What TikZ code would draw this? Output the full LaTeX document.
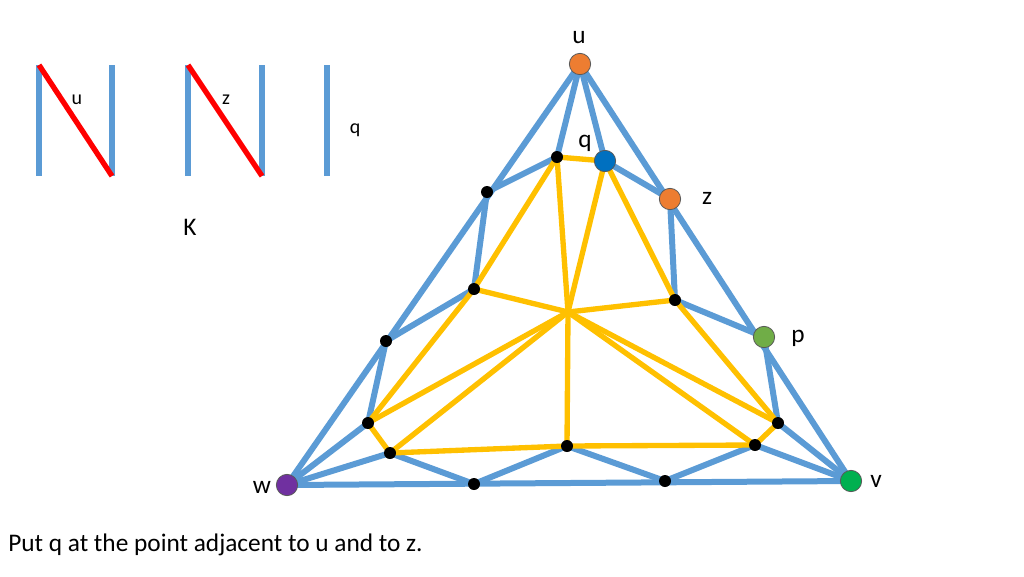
\documentclass[tikz,border=0pt]{standalone}
\usepackage{fontspec}
\setmainfont{Carlito}
\begin{document}
\begin{tikzpicture}[x=0.75pt,y=-0.75pt,
  bl/.style={draw=blue!30!cyan!60!black!60,line width=4.5pt,color={rgb,255:red,91;green,155;blue,213}},
  yl/.style={line width=4pt,color={rgb,255:red,255;green,192;blue,0}},
  rd/.style={line width=4pt,color=red},
  dot/.style={circle,fill=black,inner sep=0pt,minimum size=9pt},
  big/.style={circle,draw=gray!70!black,line width=0.6pt,inner sep=0pt,minimum size=16pt},
  lab/.style={font=\fontsize{19}{22}\selectfont,inner sep=0pt}]
\useasboundingbox (0,0) rectangle (1024,576);
% left figures
\draw[bl] (39,65) -- (39,176); \draw[bl] (112,65) -- (112,176);
\draw[rd] (39,65) -- (112,176);
\draw[bl] (188,65) -- (188,176); \draw[bl] (262,65) -- (262,176);
\draw[rd] (188,65) -- (262,176);
\draw[bl] (327,65) -- (327,176);
\node[lab,font=\fontsize{15}{18}\selectfont] (lu) at (77,100) {u};
\node[lab,font=\fontsize{15}{18}\selectfont] (lz) at (226,100) {z};
\node[lab,font=\fontsize{15}{18}\selectfont] (lq) at (355,130) {q};
\node[lab] (lk) at (190,227) {K};
% coordinates
\coordinate (u) at (580,64); \coordinate (w) at (287,485); \coordinate (v) at (851,481);
\coordinate (q) at (605,161); \coordinate (z) at (670,199); \coordinate (p) at (764,337);
\coordinate (a1) at (557,157); \coordinate (b1) at (487,192); \coordinate (b2) at (474,289);
\coordinate (b3) at (386,341); \coordinate (b4) at (368,423); \coordinate (b5) at (390,453);
\coordinate (b6) at (474,484); \coordinate (b7) at (567,446); \coordinate (b8) at (665,481);
\coordinate (b9) at (755,445); \coordinate (b10) at (778,423); \coordinate (b11) at (675,300);
\coordinate (c) at (568,312);
% blue
\draw[bl,line join=round] (u) -- (w) -- (v) -- cycle;
\draw[bl] (u) -- (a1) -- (b1) -- (b2) -- (b3) -- (b4) -- (w);
\draw[bl] (u) -- (q) -- (z) -- (b11) -- (p) -- (b10) -- (v);
\draw[bl] (w) -- (b5) -- (b6) -- (b7) -- (b8) -- (b9) -- (v);
% yellow
\draw[yl] (a1) -- (q);
\draw[yl] (a1) -- (b2); \draw[yl] (a1) -- (c); \draw[yl] (q) -- (c); \draw[yl] (q) -- (b11);
\draw[yl] (b2) -- (c); \draw[yl] (b11) -- (c);
\draw[yl] (c) -- (b4); \draw[yl] (c) -- (b5); \draw[yl] (c) -- (b7); \draw[yl] (c) -- (b9); \draw[yl] (c) -- (b10);
\draw[yl] (b2) -- (b4); \draw[yl] (b11) -- (b10);
\draw[yl] (b4) -- (b5) -- (b7) -- (b9) -- (b10);
% dots
\foreach \n in {b1,b2,b3,b4,b5,b6,b7,b8,b9,b10,b11,a1} \node[dot] (d\n) at (\n) {};
\node[big,fill={rgb,255:red,237;green,125;blue,49}] (nu) at (u) {};
\node[big,fill={rgb,255:red,0;green,112;blue,192}] (nq) at (q) {};
\node[big,fill={rgb,255:red,237;green,125;blue,49}] (nz) at (z) {};
\node[big,fill={rgb,255:red,112;green,173;blue,71}] (np) at (p) {};
\node[big,fill={rgb,255:red,0;green,176;blue,80}] (nv) at (v) {};
\node[big,fill={rgb,255:red,112;green,48;blue,160}] (nw) at (w) {};
\node[lab] (tu) at (579,38) {u};
\node[lab] (tq) at (585,143) {q};
\node[lab] (tz) at (707,198) {z};
\node[lab] (tp) at (798,338) {p};
\node[lab] (tv) at (876,481) {v};
\node[lab] (tw) at (262,487) {w};
\node[lab,anchor=west] (cap) at (8,545) {Put q at the point adjacent to u and to z.};
\end{tikzpicture}
\end{document}
